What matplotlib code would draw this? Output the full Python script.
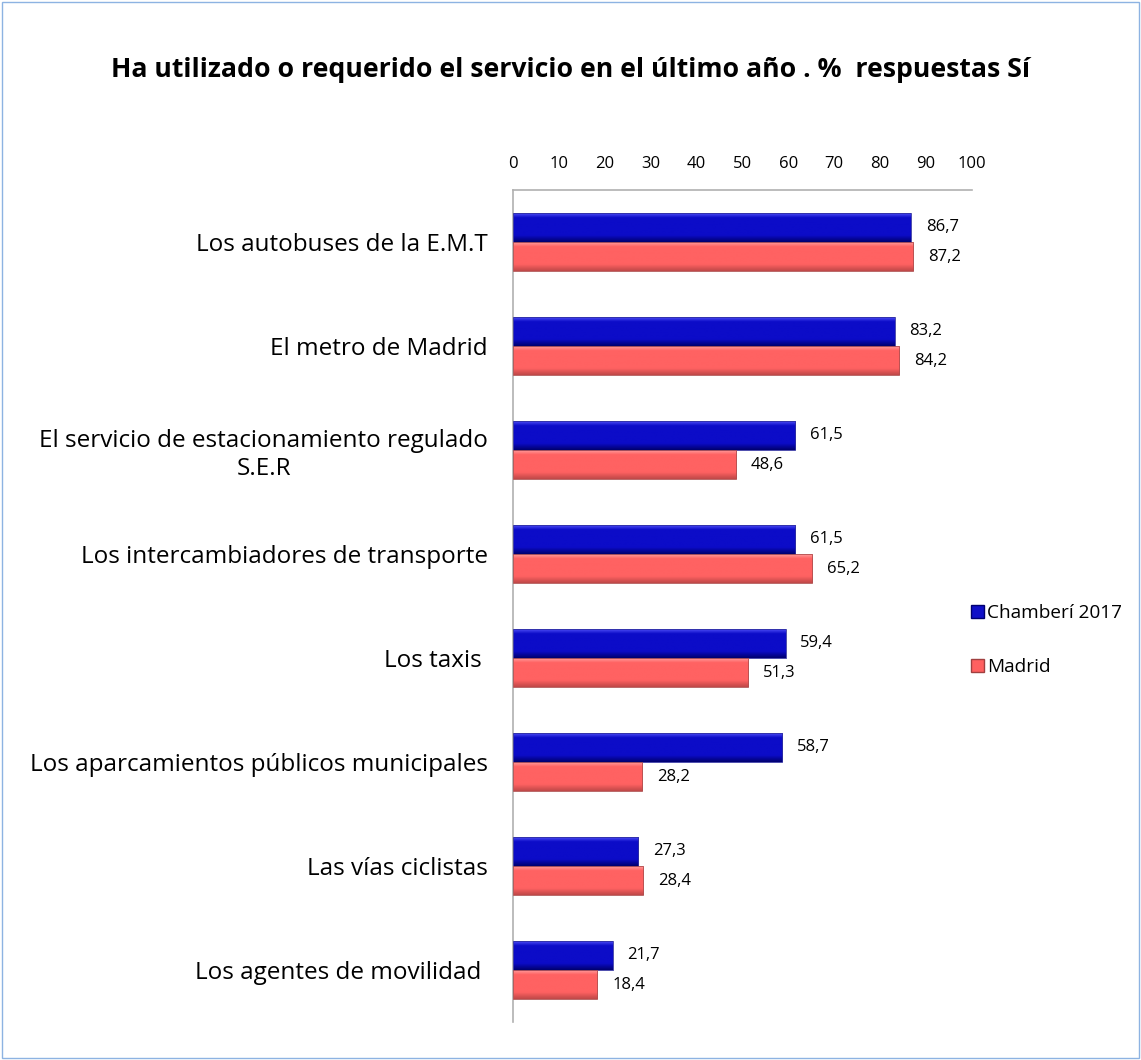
import numpy as np
import matplotlib
matplotlib.use("Agg")
import matplotlib.pyplot as plt
from matplotlib.patches import Rectangle, Patch

categories = [
    "Los autobuses de la E.M.T",
    "El metro de Madrid",
    "El servicio de estacionamiento regulado\nS.E.R",
    "Los intercambiadores de transporte",
    "Los taxis ",
    "Los aparcamientos públicos municipales",
    "Las vías ciclistas",
    "Los agentes de movilidad ",
]
chamberi = [86.7, 83.2, 61.5, 61.5, 59.4, 58.7, 27.3, 21.7]
madrid = [87.2, 84.2, 48.6, 65.2, 51.3, 28.2, 28.4, 18.4]
series_names = ["Chamberí 2017", "Madrid"]
x_ticks = [0, 10, 20, 30, 40, 50, 60, 70, 80, 90, 100]

plt.rcParams['font.family'] = ['Open Sans', 'DejaVu Sans']

fig = plt.figure(figsize=(11.41, 10.60), dpi=100)
ax = fig.add_axes([0.4496, 0.0358, 0.4023, 0.785])

y = np.arange(len(categories))
h = 0.28


def bevel_bars(bars, light, mid, dark):
    # vertical gradient inside each bar to fake the bevelled look
    cmap = matplotlib.colors.LinearSegmentedColormap.from_list(
        "b", [(0, light), (0.18, mid), (0.78, mid), (1, dark)])
    grad = np.linspace(0, 1, 64).reshape(-1, 1)
    for b in bars:
        x0, y0 = b.get_x(), b.get_y()
        w, hh = b.get_width(), b.get_height()
        im = ax.imshow(grad, cmap=cmap, aspect="auto",
                       extent=[x0, x0 + w, y0 + hh, y0],
                       origin="upper", zorder=2)
        im.set_clip_path(b)


b1 = ax.barh(y - h / 2, chamberi, height=h, color="#1010C8",
             edgecolor="#3030A0", linewidth=0.6, zorder=3)
b2 = ax.barh(y + h / 2, madrid, height=h, color="#FF6060",
             edgecolor="#B05050", linewidth=0.6, zorder=3)
for b in list(b1) + list(b2):
    b.set_facecolor("none")
bevel_bars(b1, "#5A5AFF", "#0C0CC8", "#000070")
bevel_bars(b2, "#FFA8A8", "#FF6262", "#C04848")

for i in range(len(categories)):
    ax.text(chamberi[i] + 3.2, y[i] - h / 2, f"{chamberi[i]:.1f}".replace(".", ","),
            va="center", ha="left", fontsize=12)
    ax.text(madrid[i] + 3.2, y[i] + h / 2, f"{madrid[i]:.1f}".replace(".", ","),
            va="center", ha="left", fontsize=12)

ax.set_xlim(0, 100)
ax.set_ylim(len(categories) - 0.5, -0.5)
ax.set_xticks(x_ticks)
ax.xaxis.tick_top()
ax.tick_params(axis="x", length=0, pad=13, labelsize=12)
ax.set_yticks(y)
ax.set_yticklabels(categories, fontsize=17.5, multialignment="center")
ax.tick_params(axis="y", length=0, pad=18)
for s in ["right", "bottom"]:
    ax.spines[s].set_visible(False)
for s in ["top", "left"]:
    ax.spines[s].set_color("#B0B0B0")
    ax.spines[s].set_linewidth(1.2)

fig.text(0.5, 0.934, "Ha utilizado o requerido el servicio en el último año . %  respuestas Sí",
         ha="center", va="center", fontsize=19.2, fontweight="bold")

handles = [Patch(facecolor="#1010C8", edgecolor="#000070"),
           Patch(facecolor="#FF6060", edgecolor="#A04040")]
fig.legend(handles, series_names, loc="center left", bbox_to_anchor=(0.836, 0.396),
           frameon=False, fontsize=13.7, handlelength=0.7, handleheight=0.7,
           handletextpad=0.15, labelspacing=1.9)

fig.patches.append(Rectangle((0.002, 0.002), 0.996, 0.996, transform=fig.transFigure,
                             fill=False, edgecolor="#8DB3E2", linewidth=1))

fig.savefig("out.png", dpi=100)
